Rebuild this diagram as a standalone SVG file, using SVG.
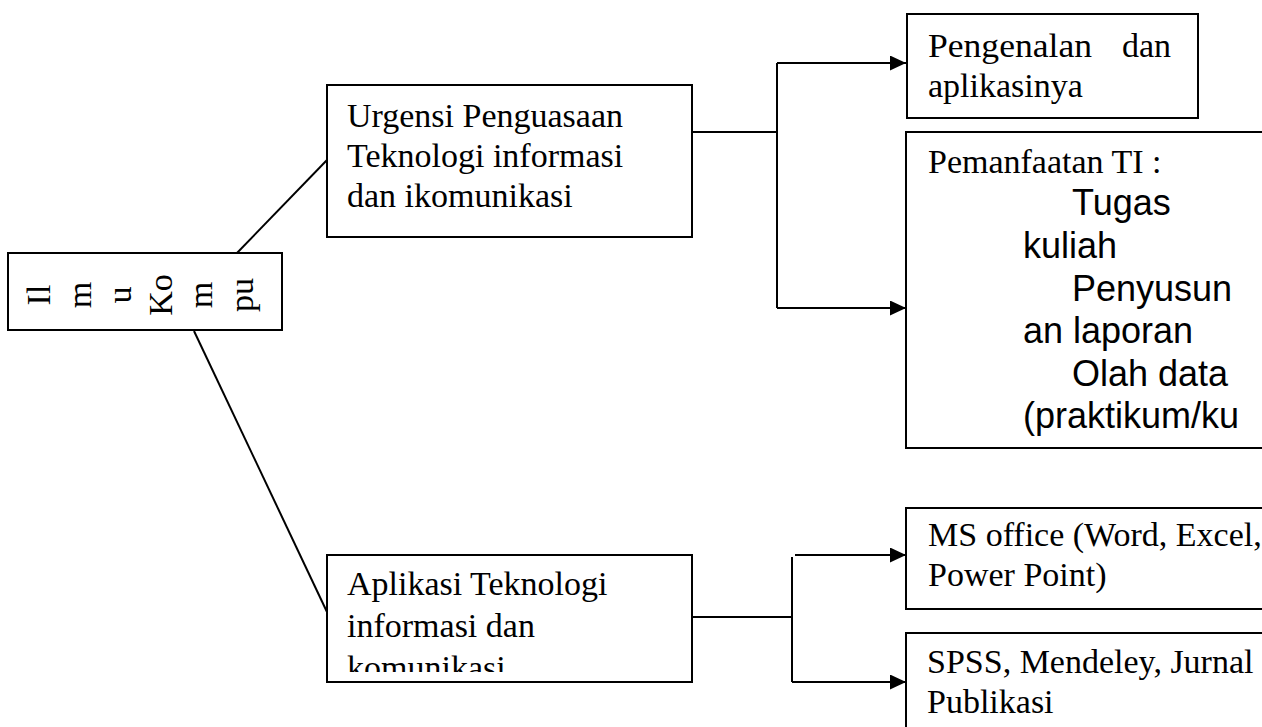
<svg xmlns="http://www.w3.org/2000/svg" width="1262" height="727" viewBox="0 0 1262 727">
<style>
.box{fill:#fff;stroke:#000;stroke-width:2}
.s{font-family:"Liberation Serif","Times New Roman",serif;font-size:34px;fill:#000}
.a{font-family:"Liberation Sans",Arial,sans-serif;font-size:36px;fill:#000}
.c{fill:none;stroke:#000;stroke-width:2}
</style>
<defs>
<marker id="ah" markerUnits="userSpaceOnUse" markerWidth="16" markerHeight="15" refX="16" refY="7.5" orient="auto">
<path d="M0,0 L16,7.5 L0,15 z" fill="#000"/>
</marker>
<clipPath id="clip3"><rect x="327" y="555" width="365" height="117"/></clipPath>
</defs>
<rect width="1262" height="727" fill="#fff"/>
<g id="connectors">
<path class="c" d="M237,253 L327,160"/>
<path class="c" d="M194,331 L327,612"/>
<path class="c" d="M693,132 H777 M777,63 V308"/>
<path class="c" d="M777,63 H906" marker-end="url(#ah)"/>
<path class="c" d="M777,308 H906" marker-end="url(#ah)"/>
<path class="c" d="M693,617 H792 M792,557 V682"/>
<path class="c" d="M795,555 H906" marker-end="url(#ah)"/>
<path class="c" d="M792,682 H906" marker-end="url(#ah)"/>
</g>
<g id="root">
<rect class="box" x="8" y="253" width="274" height="77"/>
<g class="s" text-anchor="middle" transform="rotate(-90)">
<text x="-295" y="50">Il</text>
<text x="-295" y="90.5">m</text>
<text x="-295" y="131">u</text>
<text x="-295" y="171.5">Ko</text>
<text x="-295" y="212">m</text>
<text x="-295" y="252.5">pu</text>
</g>
</g>
<g id="urgensi">
<rect class="box" x="327" y="85" width="365" height="152"/>
<text class="s" x="347" y="127">Urgensi Penguasaan</text>
<text class="s" x="347" y="167">Teknologi informasi</text>
<text class="s" x="347" y="207">dan ikomunikasi</text>
</g>
<g id="aplikasi">
<rect class="box" x="327" y="555" width="365" height="127"/>
<g clip-path="url(#clip3)">
<text class="s" x="347" y="595">Aplikasi Teknologi</text>
<text class="s" x="347" y="637">informasi dan</text>
<text class="s" x="347" y="679">komunikasi</text>
</g>
</g>
<g id="pengenalan">
<rect class="box" x="907" y="14" width="291" height="104"/>
<text class="s" x="928" y="57" textLength="164" lengthAdjust="spacingAndGlyphs">Pengenalan</text>
<text class="s" x="1122" y="57">dan</text>
<text class="s" x="928" y="97">aplikasinya</text>
</g>
<g id="pemanfaatan">
<rect class="box" x="906" y="132" width="370" height="316"/>
<text class="s" x="928" y="173">Pemanfaatan TI :</text>
<text class="a" x="1072" y="215">Tugas</text>
<text class="a" x="1023" y="258">kuliah</text>
<text class="a" x="1072" y="301">Penyusun</text>
<text class="a" x="1023" y="343">an laporan</text>
<text class="a" x="1072" y="386">Olah data</text>
<text class="a" x="1023" y="428">(praktikum/ku</text>
</g>
<g id="msoffice">
<rect class="box" x="906" y="508" width="370" height="101"/>
<text class="s" x="928" y="546">MS office (Word, Excel,</text>
<text class="s" x="928" y="586">Power Point)</text>
</g>
<g id="spss">
<rect class="box" x="906" y="633" width="370" height="110"/>
<text class="s" x="927" y="673">SPSS, Mendeley, Jurnal</text>
<text class="s" x="927" y="713">Publikasi</text>
</g>
</svg>
